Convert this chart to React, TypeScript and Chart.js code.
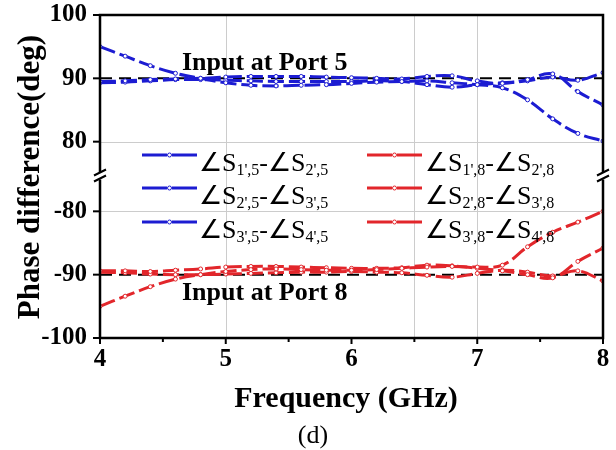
import React, { useEffect, useRef } from 'react';
import { Chart, registerables } from 'chart.js';

Chart.register(...registerables);

// ---------- data ----------
const FREQ = [4.0, 4.2, 4.4, 4.6, 4.8, 5.0, 5.2, 5.4, 5.6, 5.8, 6.0, 6.2, 6.4, 6.6, 6.8, 7.0, 7.2, 7.4, 7.6, 7.8, 8.0];

// Input at Port 5 (blue)
const P5_12 = [95.0, 93.5, 92.0, 90.8, 90.0, 89.3, 88.9, 88.8, 88.9, 89.0, 89.2, 89.4, 89.5, 89.6, 89.3, 89.0, 88.5, 86.6, 83.6, 81.3, 80.1];
const P5_23 = [89.5, 89.6, 89.8, 89.9, 90.0, 90.2, 90.3, 90.3, 90.3, 90.2, 90.1, 90.0, 89.9, 90.3, 90.4, 89.6, 89.2, 89.8, 90.7, 87.9, 85.8];
const P5_34 = [89.3, 89.4, 89.6, 89.8, 89.8, 89.7, 89.6, 89.5, 89.5, 89.5, 89.5, 89.6, 89.5, 89.0, 88.6, 89.0, 89.3, 89.6, 90.2, 89.7, 90.9];

// Input at Port 8 (red)
const P8_12 = [-95.0, -93.4, -91.9, -90.7, -90.0, -89.5, -89.2, -89.1, -89.2, -89.3, -89.3, -89.2, -89.0, -88.8, -88.7, -88.8, -88.5, -85.6, -83.3, -81.7, -80.0];
const P8_23 = [-89.4, -89.4, -89.5, -89.3, -89.1, -88.8, -88.7, -88.7, -88.8, -88.9, -89.0, -89.0, -88.9, -88.5, -88.6, -89.0, -89.4, -90.0, -90.5, -87.9, -85.8];
const P8_34 = [-89.6, -89.7, -89.9, -90.0, -90.0, -89.9, -89.8, -89.7, -89.6, -89.6, -89.5, -89.6, -89.7, -90.1, -90.4, -89.8, -89.3, -89.6, -90.2, -89.4, -91.0];

const REF_TOP = 90;
const REF_BOT = -90;

const X_TICKS = [4, 5, 6, 7, 8];
const X_MINOR = [4.5, 5.5, 6.5, 7.5];
const Y_TOP_TICKS = [80, 90, 100];
const Y_BOT_TICKS = [-100, -90, -80];
const TOP_RANGE = [74.5, 100];
const BOT_RANGE = [-100, -74.5];
const GRID_X = [5, 6.5, 7];
const GRID_Y_TOP = [80];
const GRID_Y_BOT = [-80];

const BLUE_SUBS = [["1',5", "2',5"], ["2',5", "3',5"], ["3',5", "4',5"]];
const RED_SUBS = [["1',8", "2',8"], ["2',8", "3',8"], ["3',8", "4',8"]];

const ANNOT_TOP = 'Input at Port 5';
const ANNOT_BOT = 'Input at Port 8';
const X_TITLE = 'Frequency (GHz)';
const Y_TITLE = 'Phase difference(deg)';
const CAPTION = '(d)';

// ---------- styles ----------
const FONT = "'Liberation Serif', 'Times New Roman', serif";
const BLUE = '#1c1cd2';
const RED = '#e2262b';

const pts = (ys: number[]) => ys.map((y, i) => ({ x: FREQ[i], y }));

function seriesDs(data: number[], color: string, axis: string) {
  return {
    data: pts(data),
    yAxisID: axis,
    borderColor: color,
    backgroundColor: color,
    borderWidth: 3,
    borderDash: [16, 5],
    tension: 0.4,
    pointRadius: 2,
    pointBorderWidth: 1,
    pointBackgroundColor: '#ffffff',
    pointBorderColor: color,
    fill: false,
  };
}

function refDs(v: number, axis: string) {
  return {
    data: [{ x: FREQ[0], y: v }, { x: FREQ[FREQ.length - 1], y: v }],
    yAxisID: axis,
    borderColor: '#000',
    borderWidth: 2,
    borderDash: [12, 7],
    pointRadius: 0,
    tension: 0,
    fill: false,
  };
}

function drawSubLabel(ctx: CanvasRenderingContext2D, x: number, baseline: number, subs: string[]) {
  const big = `26px ${FONT}`;
  const small = `16px ${FONT}`;
  let cx = x;
  const part = (t: string, f: string, dy: number) => {
    ctx.font = f;
    ctx.fillText(t, cx, baseline + dy);
    cx += ctx.measureText(t).width;
  };
  part('\u2220S', big, 0);
  part(subs[0], small, 4);
  part('-\u2220S', big, 0);
  part(subs[1], small, 4);
}

function drawSample(ctx: CanvasRenderingContext2D, x: number, y: number, color: string) {
  ctx.save();
  ctx.strokeStyle = color;
  ctx.lineWidth = 3;
  ctx.setLineDash([25, 5]);
  ctx.beginPath();
  ctx.moveTo(x, y);
  ctx.lineTo(x + 55, y);
  ctx.stroke();
  ctx.setLineDash([]);
  ctx.fillStyle = '#fff';
  ctx.lineWidth = 1;
  ctx.beginPath();
  ctx.arc(x + 27.5, y, 2, 0, Math.PI * 2);
  ctx.fill();
  ctx.stroke();
  ctx.restore();
}

const decor = {
  id: 'decor',
  beforeDatasetsDraw(chart: any) {
    const { ctx, chartArea: a, scales } = chart;
    ctx.save();
    ctx.strokeStyle = '#cccccc';
    ctx.lineWidth = 1;
    GRID_X.forEach((v) => {
      const px = Math.round(scales.x.getPixelForValue(v)) + 0.5;
      ctx.beginPath();
      ctx.moveTo(px, a.top);
      ctx.lineTo(px, a.bottom);
      ctx.stroke();
    });
    const hline = (py: number) => {
      const p = Math.round(py) + 0.5;
      ctx.beginPath();
      ctx.moveTo(a.left, p);
      ctx.lineTo(a.right, p);
      ctx.stroke();
    };
    GRID_Y_TOP.forEach((v) => hline(scales.yTop.getPixelForValue(v)));
    GRID_Y_BOT.forEach((v) => hline(scales.yBot.getPixelForValue(v)));
    ctx.restore();
  },
  afterDatasetsDraw(chart: any) {
    const { ctx, chartArea: a, scales } = chart;
    ctx.save();
    // frame
    ctx.strokeStyle = '#000';
    ctx.lineWidth = 2.5;
    ctx.strokeRect(a.left, a.top, a.right - a.left, a.bottom - a.top);
    // x ticks
    ctx.lineWidth = 2;
    X_TICKS.forEach((v) => {
      const px = scales.x.getPixelForValue(v);
      ctx.beginPath();
      ctx.moveTo(px, a.bottom);
      ctx.lineTo(px, a.bottom + 6);
      ctx.stroke();
    });
    X_MINOR.forEach((v) => {
      const px = scales.x.getPixelForValue(v);
      ctx.beginPath();
      ctx.moveTo(px, a.bottom);
      ctx.lineTo(px, a.bottom + 4);
      ctx.stroke();
    });
    // y ticks
    const ytick = (py: number) => {
      ctx.beginPath();
      ctx.moveTo(a.left, py);
      ctx.lineTo(a.left - 7, py);
      ctx.stroke();
    };
    Y_TOP_TICKS.forEach((v) => ytick(scales.yTop.getPixelForValue(v)));
    Y_BOT_TICKS.forEach((v) => ytick(scales.yBot.getPixelForValue(v)));
    // break marks
    const ys = scales.yTop.bottom;
    [a.left, a.right].forEach((x0) => {
      ctx.fillStyle = '#fff';
      ctx.fillRect(x0 - 3, ys - 4, 6, 7);
      ctx.strokeStyle = '#000';
      ctx.lineWidth = 2;
      ctx.beginPath();
      ctx.moveTo(x0 - 6, ys - 1);
      ctx.lineTo(x0 + 6, ys - 7);
      ctx.moveTo(x0 - 6, ys + 5);
      ctx.lineTo(x0 + 6, ys - 1);
      ctx.stroke();
    });
    // annotations
    ctx.fillStyle = '#000';
    ctx.textAlign = 'left';
    ctx.textBaseline = 'alphabetic';
    ctx.font = `bold 26px ${FONT}`;
    ctx.fillText(ANNOT_TOP, 182, 70);
    ctx.fillText(ANNOT_BOT, 182, 300);
    // legend
    const rows = [155, 188, 222];
    rows.forEach((ry, i) => {
      drawSample(ctx, 142, ry, BLUE);
      ctx.fillStyle = '#000';
      drawSubLabel(ctx, 199, ry + 16, BLUE_SUBS[i]);
      drawSample(ctx, 367, ry, RED);
      ctx.fillStyle = '#000';
      drawSubLabel(ctx, 425, ry + 16, RED_SUBS[i]);
    });
    // axis titles
    ctx.fillStyle = '#000';
    ctx.font = `bold 30px ${FONT}`;
    ctx.textAlign = 'center';
    ctx.fillText(X_TITLE, 346, 407);
    ctx.save();
    ctx.font = `bold 31px ${FONT}`;
    ctx.translate(39, 177);
    ctx.rotate(-Math.PI / 2);
    ctx.fillText(Y_TITLE, 0, 0);
    ctx.restore();
    ctx.font = `26px ${FONT}`;
    ctx.fillText(CAPTION, 313, 443);
    ctx.restore();
  },
};

const tickFont = { family: FONT, size: 25, weight: 'bold' as const };

const noPad = (s: any) => {
  s.paddingTop = 0;
  s.paddingBottom = 0;
  s.paddingLeft = 0;
  s.paddingRight = 0;
};

export default function App() {
  const ref = useRef<HTMLCanvasElement | null>(null);
  useEffect(() => {
    if (!ref.current) return;
    const chart = new Chart(ref.current, {
      type: 'line',
      data: {
        datasets: [
          seriesDs(P5_12, BLUE, 'yTop'),
          seriesDs(P5_23, BLUE, 'yTop'),
          seriesDs(P5_34, BLUE, 'yTop'),
          seriesDs(P8_12, RED, 'yBot'),
          seriesDs(P8_23, RED, 'yBot'),
          seriesDs(P8_34, RED, 'yBot'),
          refDs(REF_TOP, 'yTop'),
          refDs(REF_BOT, 'yBot'),
        ] as any,
      },
      options: {
        animation: false,
        responsive: false,
        devicePixelRatio: 1,
        layout: { padding: { top: 15, right: 13, left: 0, bottom: 0 } },
        plugins: { legend: { display: false }, tooltip: { enabled: false } },
        scales: {
          x: {
            type: 'linear',
            min: FREQ[0],
            max: FREQ[FREQ.length - 1],
            afterBuildTicks: (s: any) => { s.ticks = X_TICKS.map((v) => ({ value: v })); },
            afterFit: (s: any) => { s.height = 112; noPad(s); },
            grid: { display: false, drawTicks: false },
            border: { display: false },
            ticks: { font: tickFont, color: '#000', padding: 7, maxRotation: 0, callback: (v: any) => String(v) },
          },
          yBot: {
            type: 'linear',
            position: 'left',
            stack: 'y',
            stackWeight: 1,
            min: BOT_RANGE[0],
            max: BOT_RANGE[1],
            afterBuildTicks: (s: any) => { s.ticks = Y_BOT_TICKS.map((v) => ({ value: v })); },
            afterFit: (s: any) => { s.width = 100; noPad(s); },
            grid: { display: false, drawTicks: false },
            border: { display: false },
            ticks: { font: tickFont, color: '#000', padding: 13, callback: (v: any) => String(v) },
          },
          yTop: {
            type: 'linear',
            position: 'left',
            stack: 'y',
            stackWeight: 1,
            min: TOP_RANGE[0],
            max: TOP_RANGE[1],
            afterBuildTicks: (s: any) => { s.ticks = Y_TOP_TICKS.map((v) => ({ value: v })); },
            afterFit: (s: any) => { s.width = 100; noPad(s); },
            grid: { display: false, drawTicks: false },
            border: { display: false },
            ticks: { font: tickFont, color: '#000', padding: 13, callback: (v: any) => String(v) },
          },
        },
      } as any,
      plugins: [decor],
    });
    return () => chart.destroy();
  }, []);
  return (
    <div style={{ position: 'fixed', left: 0, top: 0, width: 616, height: 450, background: '#fff' }}>
      <canvas ref={ref} width={616} height={450} style={{ width: 616, height: 450, display: 'block' }} />
    </div>
  );
}
